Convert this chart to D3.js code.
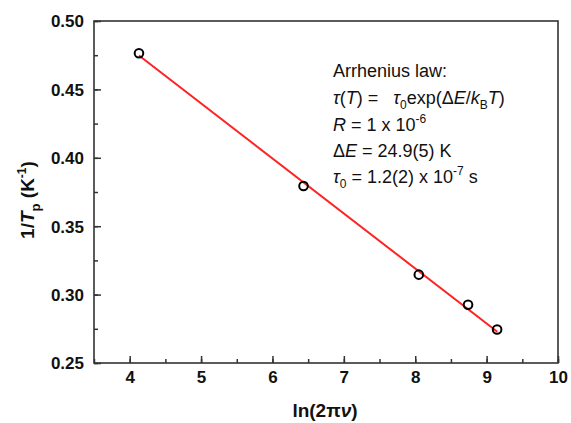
<!DOCTYPE html>
<html>
<head>
<meta charset="utf-8">
<script src="https://cdn.jsdelivr.net/npm/d3@7"></script>
<style>
  body { margin: 0; background: #fff; }
  svg { display: block; font-family: "Liberation Sans", Arial, sans-serif; }
</style>
</head>
<body>
<svg width="571" height="423"></svg>
<script>
// data
const lnFreq = [4.13, 6.435, 8.05, 8.74, 9.147];
const invTp = [0.4764, 0.3794, 0.3146, 0.2926, 0.2745];
const fitX = [4.13, 9.15];
const fitY = [0.4748, 0.2728];
const xTicks = [4, 5, 6, 7, 8, 9, 10];
const yTicks = [0.25, 0.30, 0.35, 0.40, 0.45, 0.50];

const svg = d3.select("svg");
const plotL = 94, plotR = 558, plotT = 21, plotB = 363;

const x = d3.scaleLinear().domain([3.5, 10]).range([plotL, plotR]);
const y = d3.scaleLinear().domain([0.25, 0.50]).range([plotB, plotT]);

const axisColor = "#333";

// minor ticks
svg.append("g").attr("transform", `translate(0,${plotB})`)
    .call(d3.axisBottom(x).tickValues(d3.range(3.5, 10.01, 0.5)).tickSize(-4).tickFormat(""))
    .call(g => g.select(".domain").remove())
    .call(g => g.selectAll("line").attr("stroke", axisColor).attr("stroke-width", 1.5));
svg.append("g").attr("transform", `translate(${plotL},0)`)
    .call(d3.axisLeft(y).tickValues(d3.range(0.25, 0.501, 0.025)).tickSize(-4).tickFormat(""))
    .call(g => g.select(".domain").remove())
    .call(g => g.selectAll("line").attr("stroke", axisColor).attr("stroke-width", 1.5));

// major ticks
svg.append("g").attr("transform", `translate(0,${plotB})`)
    .call(d3.axisBottom(x).tickValues(xTicks).tickSize(-7).tickFormat(d3.format("d")))
    .call(g => g.select(".domain").remove())
    .call(g => g.selectAll("line").attr("stroke", axisColor).attr("stroke-width", 1.5))
    .call(g => g.selectAll("text").attr("fill", "#111").attr("font-size", "17px")
        .attr("font-weight", "bold").attr("y", 20).attr("dy", 0));
svg.append("g").attr("transform", `translate(${plotL},0)`)
    .call(d3.axisLeft(y).tickValues(yTicks).tickSize(-7).tickFormat(d3.format(".2f")))
    .call(g => g.select(".domain").remove())
    .call(g => g.selectAll("line").attr("stroke", axisColor).attr("stroke-width", 1.5))
    .call(g => g.selectAll("text").attr("fill", "#111").attr("font-size", "17px")
        .attr("font-weight", "bold").attr("x", -10).attr("dy", "0.35em"));

// frame
svg.append("rect")
    .attr("x", plotL).attr("y", plotT)
    .attr("width", plotR - plotL).attr("height", plotB - plotT)
    .attr("fill", "none").attr("stroke", axisColor).attr("stroke-width", 1.6);

// fit line
svg.append("line")
    .attr("x1", x(fitX[0])).attr("y1", y(fitY[0]))
    .attr("x2", x(fitX[1])).attr("y2", y(fitY[1]))
    .attr("stroke", "#f22").attr("stroke-width", 2);

// points
svg.append("g").selectAll("circle")
    .data(lnFreq)
    .enter().append("circle")
    .attr("cx", d => x(d))
    .attr("cy", (d, i) => y(invTp[i]))
    .attr("r", 4.3)
    .attr("fill", "none")
    .attr("stroke", "#000")
    .attr("stroke-width", 2);

// axis titles
const xl = svg.append("text")
    .attr("x", 325).attr("y", 417)
    .attr("text-anchor", "middle")
    .attr("font-size", "19px").attr("font-weight", "bold").attr("fill", "#111");
xl.append("tspan").text("ln(2\u03C0");
xl.append("tspan").attr("font-style", "italic").text("\u03BD");
xl.append("tspan").text(")");

const yl = svg.append("text")
    .attr("transform", "translate(34,200) rotate(-90)")
    .attr("text-anchor", "middle")
    .attr("font-size", "19px").attr("font-weight", "bold").attr("fill", "#111");
yl.append("tspan").text("1/");
yl.append("tspan").attr("font-style", "italic").text("T");
yl.append("tspan").attr("font-size", "13px").attr("dy", 6).text("p");
yl.append("tspan").attr("dy", -6).text(" (K");
yl.append("tspan").attr("font-size", "12px").attr("dy", -8).text("-1");
yl.append("tspan").attr("dy", 8).text(")");

// annotation
const ann = svg.append("g").attr("font-size", "18px").attr("fill", "#111");
const lx = 333;
ann.append("text").attr("x", lx).attr("y", 77).text("Arrhenius law:");

const l2 = ann.append("text").attr("x", lx).attr("y", 104).attr("xml:space", "preserve");
l2.append("tspan").attr("font-style", "italic").text("\u03C4");
l2.append("tspan").text("(");
l2.append("tspan").attr("font-style", "italic").text("T");
l2.append("tspan").text(") =   ");
l2.append("tspan").attr("font-style", "italic").text("\u03C4");
l2.append("tspan").attr("font-size", "12px").attr("dy", 5).text("0");
l2.append("tspan").attr("dy", -5).text("exp(\u0394");
l2.append("tspan").attr("font-style", "italic").text("E");
l2.append("tspan").text("/");
l2.append("tspan").attr("font-style", "italic").text("k");
l2.append("tspan").attr("font-size", "12px").attr("dy", 5).text("B");
l2.append("tspan").attr("font-style", "italic").attr("dy", -5).text("T");
l2.append("tspan").text(")");

const l3 = ann.append("text").attr("x", lx).attr("y", 131);
l3.append("tspan").attr("font-style", "italic").text("R");
l3.append("tspan").text(" = 1 x 10");
l3.append("tspan").attr("font-size", "12px").attr("dy", -8).text("-6");

const l4 = ann.append("text").attr("x", lx).attr("y", 157);
l4.append("tspan").text("\u0394");
l4.append("tspan").attr("font-style", "italic").text("E");
l4.append("tspan").text(" = 24.9(5) K");

const l5 = ann.append("text").attr("x", lx).attr("y", 183);
l5.append("tspan").attr("font-style", "italic").text("\u03C4");
l5.append("tspan").attr("font-size", "12px").attr("dy", 5).text("0");
l5.append("tspan").attr("dy", -5).text(" = 1.2(2) x 10");
l5.append("tspan").attr("font-size", "12px").attr("dy", -8).text("-7");
l5.append("tspan").attr("dy", 8).text(" s");
</script>
</body>
</html>
